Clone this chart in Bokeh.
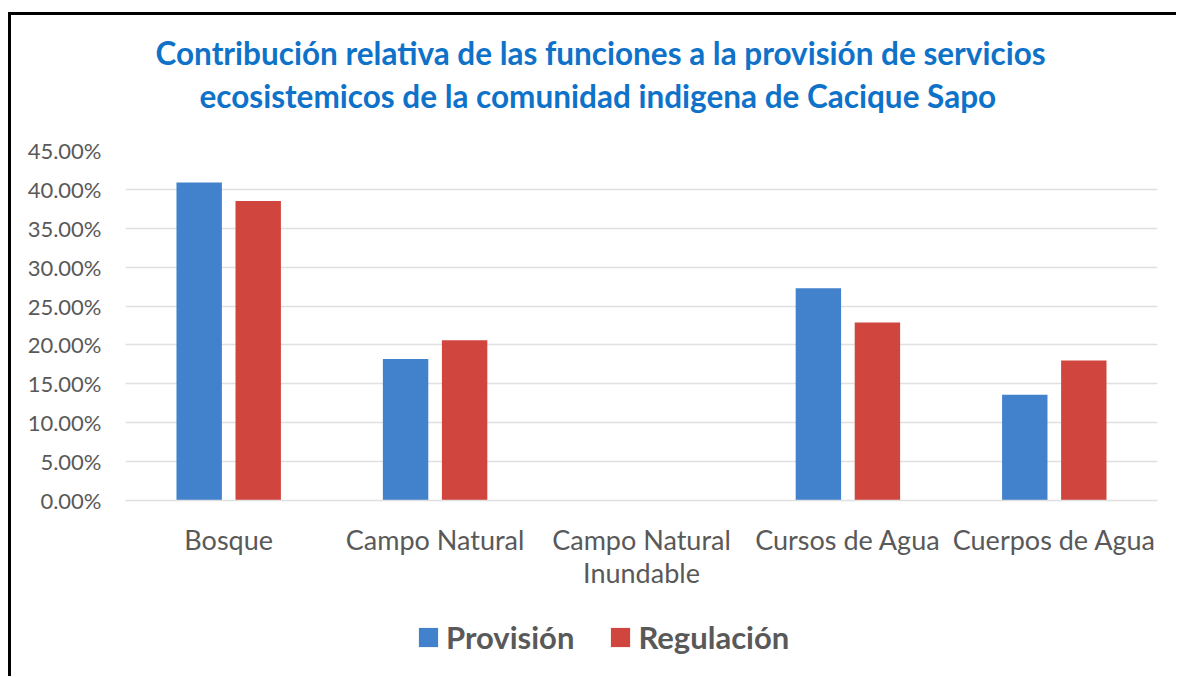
from bokeh.plotting import figure
from bokeh.layouts import column
from bokeh.models import (ColumnDataSource, FactorRange, Legend, LegendItem, Title,
                          NumeralTickFormatter, SingleIntervalTicker, Range1d)
from bokeh.transform import dodge
from bokeh.embed import file_html
from bokeh.resources import INLINE

# ---- data ----
categories = ["Bosque", "Campo Natural", "Campo Natural\nInundable", "Cursos de Agua", "Cuerpos de Agua"]
provision = [0.409, 0.182, 0.0, 0.273, 0.136]
regulacion = [0.385, 0.206, 0.0, 0.229, 0.180]
series_names = ["Provisión", "Regulación"]
title_lines = ["Contribución relativa de las funciones a la provisión de servicios",
               "ecosistemicos de  la comunidad indigena de Cacique Sapo"]
y_max = 0.45
y_step = 0.05

FONT = "Lato"
GREY = "#595959"
BLUE = "#4282CC"
RED = "#D0463F"
TITLE_BLUE = "#0F72C9"
W = 1165

src = ColumnDataSource(dict(cat=categories, prov=provision, reg=regulacion))
x_range = FactorRange(factors=categories)

# ---------------- main chart ----------------
p = figure(x_range=x_range, y_range=Range1d(0, y_max),
           width=W, height=576, output_backend="svg", toolbar_location=None,
           min_border_left=114, min_border_right=19, min_border_top=135, min_border_bottom=91)

p.vbar(x=dodge("cat", -0.143, range=x_range), top="prov", width=0.22, source=src,
       fill_color=BLUE, line_color=None)
p.vbar(x=dodge("cat", 0.143, range=x_range), top="reg", width=0.22, source=src,
       fill_color=RED, line_color=None)

# titles (second line first so it sits closest to the plot)
t2 = Title(text=title_lines[1], align="left", text_font=FONT, text_font_size="31.5px",
           text_font_style="bold", text_color=TITLE_BLUE, standoff=72, offset=74)
t1 = Title(text=title_lines[0], align="left", text_font=FONT, text_font_size="31.5px",
           text_font_style="bold", text_color=TITLE_BLUE, standoff=-67, offset=30)
p.add_layout(t2, "above")
p.add_layout(t1, "above")

p.outline_line_color = None
p.xgrid.grid_line_color = None
p.ygrid.grid_line_color = "#E0E0E0"
p.ygrid.grid_line_width = 1.5

p.yaxis.ticker = SingleIntervalTicker(interval=y_step, num_minor_ticks=0)
p.yaxis.formatter = NumeralTickFormatter(format="0.00%")
p.yaxis.axis_line_color = None
p.yaxis.major_tick_line_color = None
p.yaxis.minor_tick_line_color = None
p.yaxis.major_label_text_font = FONT
p.yaxis.major_label_text_font_size = "22px"
p.yaxis.major_label_text_color = GREY
p.yaxis.major_label_standoff = 18

p.xaxis.axis_line_color = "#E0E0E0"
p.xaxis.axis_line_width = 1.5
p.xaxis.major_tick_line_color = None
p.xaxis.minor_tick_line_color = None
p.xaxis.major_label_text_font = FONT
p.xaxis.major_label_text_font_size = "27px"
p.xaxis.major_label_text_color = GREY
p.xaxis.major_label_text_line_height = 1.0
p.xaxis.major_label_standoff = 16

# ---------------- legend strip (same series, drawn through a legend) ----------------
lf = figure(x_range=x_range, y_range=Range1d(1, 2), width=W, height=85,
            output_backend="svg", toolbar_location=None, x_axis_type=None, y_axis_type=None,
            min_border=0)
lf.outline_line_color = None
lf.grid.visible = False
l1 = lf.vbar(x=dodge("cat", -0.143, range=x_range), top="prov", width=0.22, source=src,
             fill_color=BLUE, line_color=None)
l2 = lf.vbar(x=dodge("cat", 0.143, range=x_range), top="reg", width=0.22, source=src,
             fill_color=RED, line_color=None)
legend = Legend(items=[LegendItem(label=series_names[0], renderers=[l1]),
                       LegendItem(label=series_names[1], renderers=[l2])],
                orientation="horizontal", location=(291, 20),
                label_text_font=FONT, label_text_font_size="31px", label_text_font_style="bold",
                label_text_color=GREY, glyph_width=24, glyph_height=24, label_standoff=6,
                spacing=34, padding=0, margin=0, border_line_color=None,
                background_fill_alpha=0)
lf.add_layout(legend, "center")

page = column(p, lf, spacing=0,
              styles={"border-top": "3px solid black", "border-left": "3px solid black",
                      "margin-top": "12px", "margin-left": "8px"})

open("out.html", "w").write(file_html(page, INLINE))
